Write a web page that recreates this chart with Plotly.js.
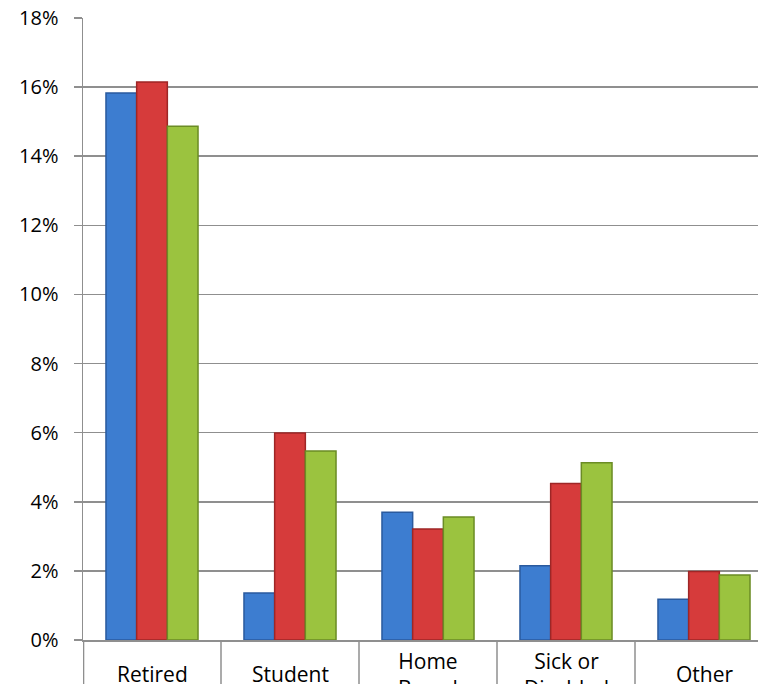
<!DOCTYPE html>
<html>
<head>
<meta charset="utf-8">
<script src="https://cdn.plot.ly/plotly-3.0.1.min.js"></script>
<style>html,body{margin:0;padding:0;background:#fff;}#chart{width:758px;height:684px;}</style>
</head>
<body>
<div id="chart"></div>
<script>
const categories = ['Retired', 'Student', 'Home Based', 'Sick or Disabled', 'Other'];
const categoryLabels = ['Retired', 'Student', 'Home<br>Based', 'Sick or<br>Disabled', 'Other'];
const seriesA = [0.1583, 0.0136, 0.0370, 0.0215, 0.0118];
const seriesB = [0.1615, 0.0599, 0.0321, 0.0453, 0.0198];
const seriesC = [0.1487, 0.0547, 0.0356, 0.0513, 0.0188];
const yTickVals = [0, 0.02, 0.04, 0.06, 0.08, 0.10, 0.12, 0.14, 0.16, 0.18];

const gridColor = '#8f8f8f';
const fillColors = ['#3d7dd0', '#d63b3b', '#9bc33f'];
const edgeColors = ['#2a5a9e', '#9e2626', '#6b8c25'];
const allSeries = [seriesA, seriesB, seriesC];

const traces = allSeries.map((vals, i) => ({
  type: 'bar',
  x: categories,
  y: vals,
  name: 'Series ' + (i + 1),
  marker: {color: fillColors[i], line: {color: edgeColors[i], width: 1.5}},
  hoverinfo: 'x+y'
}));

const shapes = [];
for (let i = 0; i < categories.length; i++) {
  shapes.push({
    type: 'line', xref: 'x', yref: 'paper',
    x0: i - 0.5 + (i === 0 ? 0.004 : 0), x1: i - 0.5 + (i === 0 ? 0.004 : 0),
    y0: 0, y1: -0.12,
    line: {color: gridColor, width: 1.5}
  });
}

const annotations = categories.map((c, i) => ({
  xref: 'x', yref: 'paper', x: c, y: 0, yshift: -34,
  xanchor: 'center', yanchor: 'middle',
  text: categoryLabels[i], showarrow: false,
  font: {family: 'Open Sans, sans-serif', size: 21, color: '#000'}
}));

const layout = {
  width: 758, height: 684,
  margin: {l: 83, r: 0, t: 18, b: 44},
  paper_bgcolor: '#fff', plot_bgcolor: '#fff',
  barmode: 'group', bargap: 0.333, bargroupgap: 0,
  showlegend: false,
  font: {family: 'Open Sans, sans-serif', size: 20, color: '#000'},
  xaxis: {
    type: 'category',
    range: [-0.5, -0.5 + 675 / 138],
    showticklabels: false, ticks: '', showgrid: false,
    showline: true, linecolor: gridColor, linewidth: 1.5,
    zeroline: false, fixedrange: true
  },
  yaxis: {
    range: [0, 0.18], tickvals: yTickVals, tickformat: '.0%',
    ticks: 'outside', ticklen: 8, tickcolor: gridColor, tickwidth: 1.5,
    showgrid: true, gridcolor: gridColor, gridwidth: 1.5,
    showline: true, linecolor: gridColor, linewidth: 1.5,
    zeroline: false, ticklabelstandoff: 11,
    tickfont: {family: 'Open Sans, sans-serif', size: 20, color: '#000'},
    fixedrange: true
  },
  shapes: shapes,
  annotations: annotations
};

Plotly.newPlot('chart', traces, layout, {displayModeBar: false, staticPlot: true});
</script>
</body>
</html>
